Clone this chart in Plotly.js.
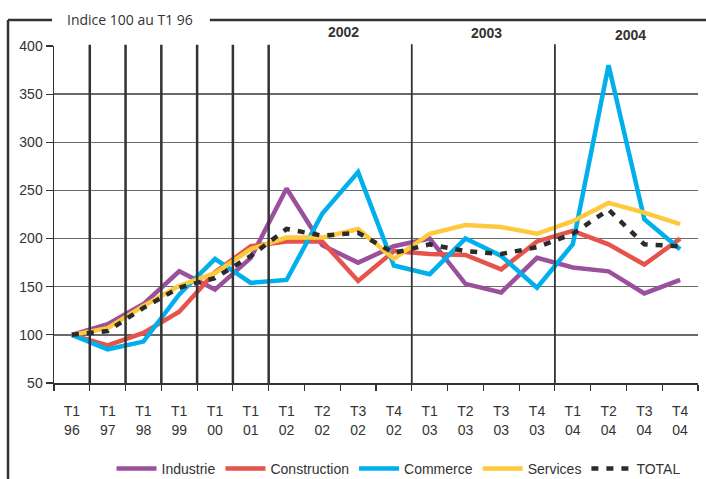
<!DOCTYPE html>
<html>
<head>
<meta charset="utf-8">
<script src="https://cdn.plot.ly/plotly-3.0.1.min.js"></script>
<style>
  html, body { margin: 0; padding: 0; background: #fff; }
  #chart { width: 706px; height: 479px; }
</style>
</head>
<body>
<div id="chart"></div>
<script>
// quarters (tick labels on two lines)
var quarters = ["T1<br>96", "T1<br>97", "T1<br>98", "T1<br>99", "T1<br>00", "T1<br>01",
                "T1<br>02", "T2<br>02", "T3<br>02", "T4<br>02",
                "T1<br>03", "T2<br>03", "T3<br>03", "T4<br>03",
                "T1<br>04", "T2<br>04", "T3<br>04", "T4<br>04"];

// index values, 100 at T1 96
var industrie    = [100, 111, 132, 166, 147, 180, 252, 193, 175, 192, 200, 153, 144, 180, 170, 166, 143, 157];
var construction = [100,  89, 102, 124, 165, 192, 197, 197, 156, 187, 184, 183, 168, 197, 208, 194, 173, 200];
var commerce     = [100,  85,  93, 142, 179, 154, 157, 226, 269, 172, 163, 200, 182, 149, 194, 380, 220, 189];
var services     = [100, 107, 130, 151, 164, 189, 201, 201, 210, 179, 205, 214, 212, 205, 218, 237, 227, 215];
var total        = [100, 104, 128, 149, 159, 182, 210, 203, 206, 185, 194, 187, 184, 191, 205, 230, 194, 192];

var yearLabels = ["2002", "2003", "2004"];

var ink = "#333333";
var tickFont = {family: "Liberation Sans, Arial, sans-serif", size: 14, color: ink};

function serie(name, values, color, dash) {
    return {
        type: "scatter",
        mode: "lines",
        name: name,
        x: quarters,
        y: values,
        line: {color: color, width: 4.5, dash: dash || "solid"}
    };
}

var data = [
    serie("Industrie", industrie, "#9a509c"),
    serie("Construction", construction, "#e5534b"),
    serie("Commerce", commerce, "#00b0ec"),
    serie("Services", services, "#fec93c"),
    serie("TOTAL", total, "#2b2b2b", "7px,8px")
];

// year separators: after each T1 of 96..01, then before T1 03 and T1 04
var shapes = [];
[0.5, 1.5, 2.5, 3.5, 4.5, 5.5].forEach(function (b) {
    shapes.push({type: "line", xref: "x", yref: "paper", x0: b, x1: b, y0: 0, y1: 1.004,
                 line: {color: ink, width: 2.5}, layer: "above"});
});
[9.5, 13.5].forEach(function (b) {
    shapes.push({type: "line", xref: "x", yref: "paper", x0: b, x1: b, y0: -0.005, y1: 1.005,
                 line: {color: ink, width: 1.8}, layer: "above"});
});
// outer frame: left edge and top edge broken by the caption
shapes.push({type: "line", xref: "paper", yref: "paper", x0: -0.0714, x1: -0.0714, y0: -0.3, y1: 1.077,
             line: {color: ink, width: 2.5}});
shapes.push({type: "line", xref: "paper", yref: "paper", x0: -0.0714, x1: -0.003, y0: 1.077, y1: 1.077,
             line: {color: ink, width: 2.5}});
shapes.push({type: "line", xref: "paper", yref: "paper", x0: 0.242, x1: 1.02, y0: 1.077, y1: 1.077,
             line: {color: ink, width: 2.5}});

var annotations = [{
    text: "Indice 100 au T1 96", xref: "paper", yref: "paper", x: 0.118, y: 1.08,
    xanchor: "center", yanchor: "middle", showarrow: false,
    font: {family: "Open Sans, sans-serif", size: 14, color: ink}
}];
var yearX = [7.6, 11.6, 15.6];
var yearY = [1.042, 1.04, 1.033];
yearLabels.forEach(function (t, i) {
    annotations.push({
        text: "<b>" + t + "</b>", xref: "x", yref: "paper", x: yearX[i], y: yearY[i],
        xanchor: "center", yanchor: "middle", showarrow: false,
        font: {family: "Liberation Sans, Arial, sans-serif", size: 14, color: ink}
    });
});

var layout = {
    width: 706,
    height: 479,
    margin: {l: 54, r: 8, t: 46, b: 96, autoexpand: false},
    paper_bgcolor: "#ffffff",
    plot_bgcolor: "#ffffff",
    showlegend: true,
    legend: {
        orientation: "h", x: 0.535, xanchor: "center", y: -0.255, yanchor: "middle",
        font: tickFont, itemwidth: 40, tracegroupgap: 0, bgcolor: "rgba(0,0,0,0)"
    },
    xaxis: {
        type: "category",
        range: [-0.5, 17.5],
        showgrid: false,
        showline: true, linecolor: ink, linewidth: 1.5,
        ticks: "outside", tickson: "boundaries", ticklen: 6, tickcolor: ink, tickwidth: 1.2,
        ticklabelstandoff: 15,
        tickfont: tickFont,
        zeroline: false
    },
    yaxis: {
        range: [50, 400],
        dtick: 50,
        showgrid: true, gridcolor: "#6a6a6a", gridwidth: 1.5,
        showline: true, linecolor: ink, linewidth: 1.5,
        ticks: "outside", ticklen: 7, tickcolor: ink, tickwidth: 1.2,
        tickfont: tickFont,
        zeroline: false
    },
    shapes: shapes,
    annotations: annotations
};

Plotly.newPlot("chart", data, layout, {displayModeBar: false, staticPlot: true});
</script>
</body>
</html>
